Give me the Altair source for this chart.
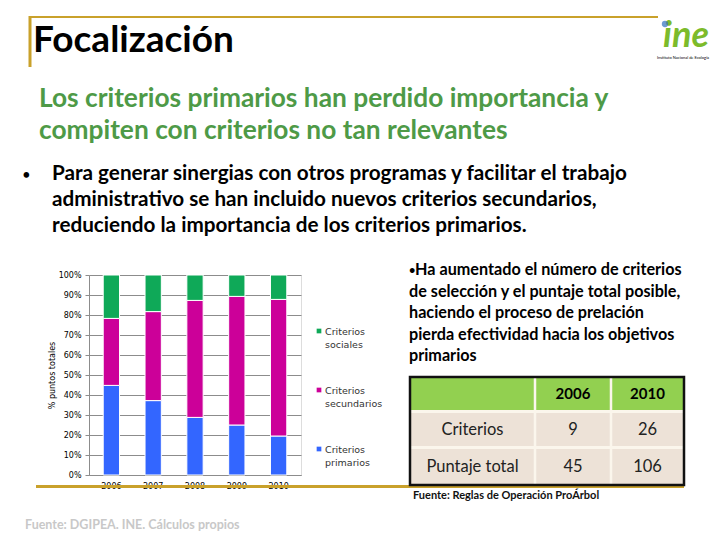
import altair as alt
import pandas as pd

# ---------------- data ----------------
years = ["2006", "2007", "2008", "2009", "2010"]
primarios = [44.8, 37.2, 28.8, 25.0, 19.5]
secundarios = [33.5, 44.5, 58.5, 64.3, 68.3]
sociales = [21.7, 18.3, 12.7, 10.7, 12.2]
series_names = ["Criterios primarios", "Criterios secundarios", "Criterios sociales"]
series_colors = ["#3366FF", "#CC0099", "#0FA958"]
y_ticks = [0, 10, 20, 30, 40, 50, 60, 70, 80, 90, 100]

table_cols = ["", "2006", "2010"]
table_rows = ["Criterios", "Puntaje total"]
table_2006 = ["9", "45"]
table_2010 = ["26", "106"]

title_text = "Focalización"
subtitle_lines = ["Los criterios primarios han perdido importancia y",
                  "compiten con criterios no tan relevantes"]
bullet_lines = ["Para generar sinergias con otros programas y facilitar el trabajo",
                "administrativo se han incluido nuevos criterios secundarios,",
                "reduciendo la importancia de los criterios primarios."]
right_lines = ["Ha aumentado el número de criterios",
               "de selección y el puntaje total posible,",
               "haciendo el proceso de prelación",
               "pierda efectividad hacia los objetivos",
               "primarios"]
source_table = "Fuente: Reglas de Operación ProÁrbol"
source_chart = "Fuente: DGIPEA. INE. Cálculos propios"

rows = []
for i, yr in enumerate(years):
    for k, (name, vals) in enumerate(zip(series_names, [primarios, secundarios, sociales])):
        rows.append({"anio": yr, "serie": name, "valor": vals[i], "orden": k})
df = pd.DataFrame(rows)

# ---------------- layout helpers ----------------
OX, OY = 89, 275          # plot-area origin in page pixels
W, H = 212, 200
PAD_L, PAD_T = OX - 8, OY - 8
TOTAL_W, TOTAL_H = 704, 524

FONT = "Lato"
GOLD = "#C9A12B"
one = pd.DataFrame({"a": [0]})

def X(px):
    return px - OX

def Y(py):
    return py - OY

def txt(s, px, py, size, color="black", weight="normal", font=FONT, align="left",
        baseline="alphabetic", angle=0, style="normal"):
    return alt.Chart(pd.DataFrame({"t": [s]})).mark_text(
        font=font, fontSize=size, color=color, fontWeight=weight, align=align,
        baseline=baseline, angle=angle, fontStyle=style
    ).encode(x=alt.value(X(px)), y=alt.value(Y(py)), text="t:N")

def hline(x1, x2, py, color, width):
    return alt.Chart(one).mark_rule(color=color, strokeWidth=width).encode(
        x=alt.value(X(x1)), x2=alt.value(X(x2)), y=alt.value(Y(py)))

def vline(px, y1, y2, color, width):
    return alt.Chart(one).mark_rule(color=color, strokeWidth=width).encode(
        x=alt.value(X(px)), y=alt.value(Y(y1)), y2=alt.value(Y(y2)))

def rect(x1, y1, x2, y2, fill):
    return alt.Chart(one).mark_rect(fill=fill).encode(
        x=alt.value(X(x1)), x2=alt.value(X(x2)), y=alt.value(Y(y1)), y2=alt.value(Y(y2)))

color_scale = alt.Scale(domain=series_names, range=series_colors)

# ---------------- bar chart ----------------
bars = alt.Chart(df).mark_bar(stroke="white", strokeWidth=1).encode(
    x=alt.X("anio:N", sort=years,
            scale=alt.Scale(paddingInner=0.61, paddingOuter=0.34),
            axis=alt.Axis(title=None, labelAngle=0, labelFont="DejaVu Sans", labelFontSize=8,
                          labelColor="black", ticks=False, domainColor="#8c8c8c",
                          labelPadding=7, grid=False)),
    y=alt.Y("valor:Q", stack="zero", scale=alt.Scale(domain=[0, 100], nice=False),
            axis=alt.Axis(values=y_ticks, labelExpr="datum.value + '%'",
                          title="% puntos totales", titleFont="DejaVu Sans", titleFontSize=8,
                          titleFontWeight="normal", titleColor="black", titlePadding=2,
                          labelFont="DejaVu Sans", labelFontSize=8, labelColor="black",
                          tickSize=4, tickColor="#8c8c8c", domainColor="#8c8c8c",
                          labelPadding=4, gridColor="#8c8c8c", gridWidth=1)),
    color=alt.Color("serie:N", scale=color_scale, legend=None),
    order=alt.Order("orden:Q", sort="ascending"),
)

# manual legend (colors via the shared scale)
legend_layers = []
legend_pos = {"Criterios sociales": 331, "Criterios secundarios": 390, "Criterios primarios": 449}
for name, ly in legend_pos.items():
    d = pd.DataFrame({"serie": [name]})
    legend_layers.append(
        alt.Chart(d).mark_square(size=22, opacity=1).encode(
            x=alt.value(X(319)), y=alt.value(Y(ly)),
            color=alt.Color("serie:N", scale=color_scale, legend=None)))
    first, second = name.split(" ")
    legend_layers.append(txt(first, 325, ly + 3.5, 9.5, color="#333333", font="DejaVu Sans"))
    legend_layers.append(txt(second, 325, ly + 16.5, 9.5, color="#333333", font="DejaVu Sans"))

# ---------------- slide decorations & text ----------------
deco = [
    hline(30, 658, 17, GOLD, 2),
    vline(30, 16, 67, GOLD, 3),
    hline(36, 684, 486.5, GOLD, 3),
]

texts = [txt(title_text, 33, 52, 37, weight="bold")]
for i, s in enumerate(subtitle_lines):
    texts.append(txt(s, 39, 107 + 32 * i, 26.3, color="#4E9A47", weight="bold"))
texts.append(txt("\u2022", 22, 180, 15))
for i, s in enumerate(bullet_lines):
    texts.append(txt(s, 52, 180 + 26 * i, 20.7, weight="bold"))
texts.append(txt("\u2022", 409, 274, 11, weight="bold"))
for i, s in enumerate(right_lines):
    pad = 415 if i == 0 else 409
    texts.append(txt(s, pad, 275 + 21.6 * i, 16.2, weight="bold"))

# logo
logo = [
    txt("ine", 686, 47, 36, color="#7CBB2B", weight="bold", align="center", style="italic"),
    alt.Chart(one).mark_point(filled=True, color="#2E6FC0", size=40, shape="circle").encode(
        x=alt.value(X(665)), y=alt.value(Y(24))),
    txt("Instituto Nacional de Ecología", 683, 59, 4, align="center"),
]

# ---------------- table ----------------
TX = [410, 535, 611, 684]
TY = [377, 411.5, 447.5, 485]
table = [
    rect(TX[0], TY[0], TX[3], TY[1], "#92D050"),
    rect(TX[0], TY[1], TX[3], TY[2], "#EDE2D7"),
    rect(TX[0], TY[2], TX[3], TY[3], "#EDE2D7"),
    hline(TX[0], TX[3], TY[1], "#FBF6EC", 3),
    hline(TX[0], TX[3], TY[2], "#FBF6EC", 3),
    vline(TX[1], TY[0], TY[3], "#FBF6EC", 2.5),
    vline(TX[2], TY[0], TY[3], "#FBF6EC", 2.5),
    alt.Chart(one).mark_rect(fill="white", fillOpacity=0, stroke="#111111", strokeWidth=2.5).encode(
        x=alt.value(X(TX[0])), x2=alt.value(X(TX[3])), y=alt.value(Y(TY[0])), y2=alt.value(Y(TY[3]))),
]
ccx = [(TX[j] + TX[j + 1]) / 2 for j in range(3)]
rcy = [(TY[j] + TY[j + 1]) / 2 for j in range(3)]
for j in (1, 2):
    table.append(txt(table_cols[j], ccx[j], rcy[0] + 5, 15, weight="bold", align="center"))
for i, lab in enumerate(table_rows):
    table.append(txt(lab, ccx[0], rcy[i + 1] + 5.5, 16.5, color="#222222", align="center"))
    table.append(txt(table_2006[i], ccx[1], rcy[i + 1] + 5.5, 16.5, color="#222222", align="center"))
    table.append(txt(table_2010[i], ccx[2], rcy[i + 1] + 5.5, 16.5, color="#222222", align="center"))

sources = [
    txt(source_table, 413, 499, 11, weight="bold", color="#111111"),
    txt(source_chart, 25, 529, 12.5, weight="bold", color="#C8C8C8"),
]

chart = alt.layer(
    *deco, *table, bars, *legend_layers, *texts, *logo, *sources
).properties(
    width=W, height=H,
    padding={"left": PAD_L, "top": PAD_T, "right": TOTAL_W - PAD_L - W, "bottom": TOTAL_H - PAD_T - H},
    autosize=alt.AutoSizeParams(type="none"),
).configure_view(stroke=None).configure(background="white")

chart.save("out.html", embed_options={"renderer": "svg", "actions": False})
